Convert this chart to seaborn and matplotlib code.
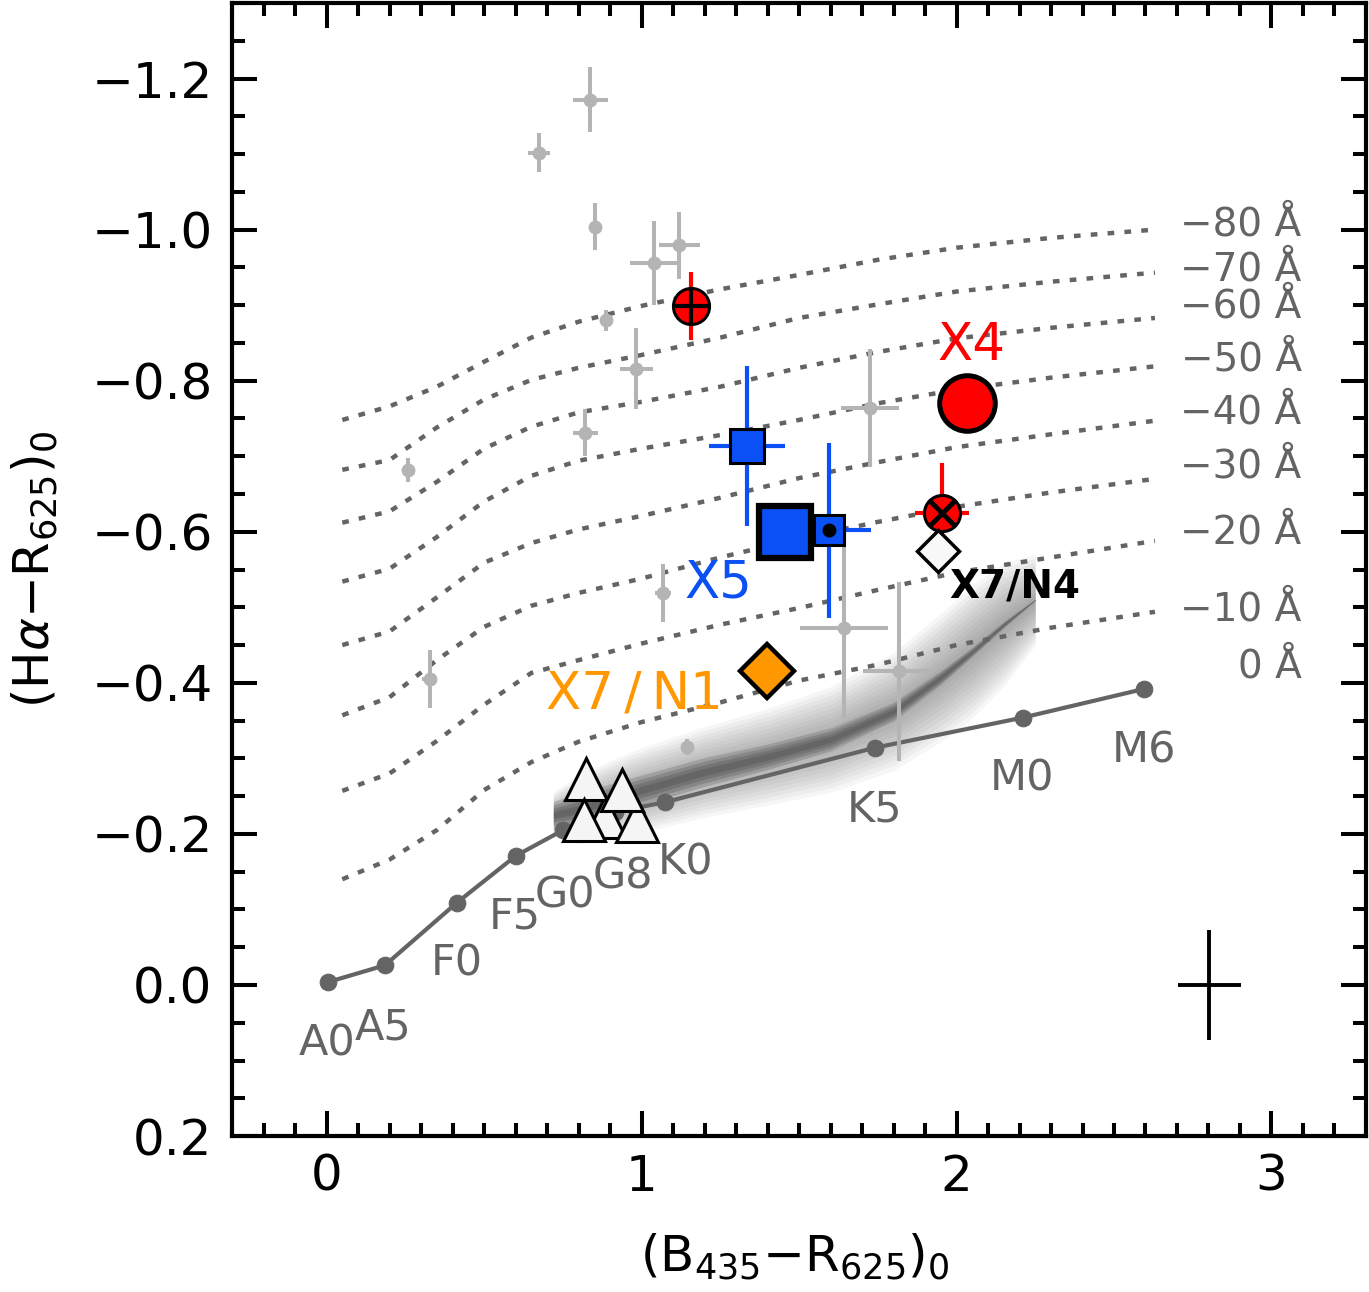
import matplotlib
matplotlib.use('Agg')
import matplotlib.pyplot as plt
import seaborn as sns
import pandas as pd
from matplotlib.ticker import MultipleLocator, FuncFormatter

# ---------------- data ----------------
# unreddened main-sequence locus
ms_x = [0.006, 0.185, 0.414, 0.601, 0.751, 0.916, 1.075, 1.740, 2.211, 2.596]
ms_y = [-0.004, -0.026, -0.109, -0.171, -0.205, -0.229, -0.242, -0.314, -0.354, -0.392]
sp_labels = ['A0', 'A5', 'F0', 'F5', 'G0', 'G8', 'K0', 'K5', 'M0', 'M6']
sp_lab_x = [0.0, 0.178, 0.414, 0.598, 0.757, 0.942, 1.139, 1.740, 2.208, 2.596]
sp_lab_y = [0.077, 0.056, -0.029, -0.090, -0.119, -0.143, -0.162, -0.232, -0.274, -0.311]

# lines of constant H-alpha equivalent width
ew_x = [0.05, 0.2, 0.35, 0.5, 0.65, 0.8, 1.0, 1.25, 1.5, 1.75, 2.0, 2.3, 2.63]
ew_m10 = [-0.140, -0.166, -0.205, -0.258, -0.295, -0.322, -0.348, -0.374, -0.403, -0.424, -0.450, -0.473, -0.494]
ew_m20 = [-0.257, -0.280, -0.323, -0.371, -0.413, -0.430, -0.452, -0.477, -0.499, -0.523, -0.546, -0.566, -0.588]
ew_m30 = [-0.357, -0.381, -0.430, -0.474, -0.502, -0.519, -0.538, -0.566, -0.591, -0.613, -0.633, -0.652, -0.670]
ew_m40 = [-0.450, -0.468, -0.513, -0.559, -0.585, -0.603, -0.621, -0.645, -0.671, -0.692, -0.712, -0.729, -0.747]
ew_m50 = [-0.534, -0.551, -0.593, -0.640, -0.674, -0.694, -0.710, -0.728, -0.748, -0.770, -0.788, -0.804, -0.819]
ew_m60 = [-0.612, -0.627, -0.666, -0.710, -0.739, -0.758, -0.772, -0.792, -0.817, -0.838, -0.856, -0.870, -0.883]
ew_m70 = [-0.682, -0.695, -0.738, -0.775, -0.801, -0.817, -0.834, -0.857, -0.883, -0.901, -0.918, -0.931, -0.943]
ew_m80 = [-0.748, -0.766, -0.792, -0.825, -0.857, -0.878, -0.899, -0.921, -0.940, -0.960, -0.976, -0.989, -1.000]
ew_labels = ['\u221280 \u00c5', '\u221270 \u00c5', '\u221260 \u00c5', '\u221250 \u00c5', '\u221240 \u00c5',
             '\u221230 \u00c5', '\u221220 \u00c5', '\u221210 \u00c5', '0 \u00c5']
ew_lab_y = [-1.007, -0.947, -0.898, -0.828, -0.758, -0.686, -0.599, -0.497, -0.421]

# field-star cloud: ridge line, dense core and sparse halo half-widths
cloud_x = [0.72, 0.80, 0.90, 1.00, 1.20, 1.40, 1.60, 1.80, 1.95, 2.05, 2.15, 2.25]
cloud_y = [-0.225, -0.232, -0.245, -0.258, -0.282, -0.302, -0.325, -0.362, -0.407, -0.441, -0.477, -0.510]
cloud_core = [0.018, 0.022, 0.021, 0.020, 0.019, 0.017, 0.015, 0.012, 0.009, 0.006, 0.004, 0.001]
cloud_halo = [0.030, 0.045, 0.052, 0.056, 0.060, 0.064, 0.070, 0.078, 0.085, 0.088, 0.082, 0.060]

# other H-alpha emitters (grey)
gray_x = [0.837, 0.675, 0.853, 1.040, 1.120, 0.888, 0.983, 0.821, 0.258, 1.069, 0.328, 1.725, 1.642, 1.817, 1.145]
gray_y = [-1.172, -1.102, -1.004, -0.956, -0.979, -0.880, -0.816, -0.731, -0.682, -0.519, -0.405, -0.764, -0.472, -0.415, -0.315]
gray_xerr = [0.055, 0.035, 0.008, 0.076, 0.066, 0.010, 0.052, 0.040, 0.008, 0.025, 0.024, 0.091, 0.139, 0.113, 0.008]
gray_yerr = [0.043, 0.026, 0.031, 0.056, 0.044, 0.014, 0.054, 0.031, 0.016, 0.038, 0.038, 0.078, 0.119, 0.119, 0.010]

# X-ray counterparts
red_plus = (1.158, -0.899, 0.015, 0.045)
red_cross = (1.954, -0.625, 0.086, 0.066)
x4 = (2.033, -0.770)
blue_x = [1.336, 1.594]
blue_y = [-0.714, -0.602]
blue_xerr = [0.121, 0.135]
blue_yerr = [0.106, 0.116]
blue_big = (1.457, -0.599)
orange_dia = (1.397, -0.416)
white_dia = (1.940, -0.574)
tri_x = [0.885, 0.986, 0.824, 0.818, 0.939]
tri_y = [-0.222, -0.217, -0.273, -0.219, -0.258]
err_cross = (2.803, 0.0, 0.099, 0.073)

# ---------------- style ----------------
sns.set_style('ticks')
plt.rcParams['font.family'] = ['DejaVu Sans']
plt.rcParams['mathtext.fontset'] = 'dejavusans'
for k in ['text.color', 'axes.labelcolor', 'xtick.color', 'ytick.color', 'xtick.labelcolor', 'ytick.labelcolor']:
    plt.rcParams[k] = 'black'

GREY = '#646464'
LGREY = '#b4b4b4'
BLUE = '#0a50f5'
RED = '#ff0000'
ORANGE = '#ff9700'

fig = plt.figure(figsize=(13.69, 12.92), dpi=100)
ax = fig.add_axes([0.1695, 0.1207, 0.8283, 0.877])

# field-star cloud (soft layered band)
n_halo = 12
for i in range(n_halo):
    f = 1.0 - i / n_halo
    ax.fill_between(cloud_x, [y - h * f for y, h in zip(cloud_y, cloud_halo)],
                    [y + h * f for y, h in zip(cloud_y, cloud_halo)],
                    color='#505050', alpha=0.05, lw=0, zorder=1)
for f in [1.0, 0.75, 0.5, 0.25]:
    ax.fill_between(cloud_x, [y - h * f for y, h in zip(cloud_y, cloud_core)],
                    [y + h * f for y, h in zip(cloud_y, cloud_core)],
                    color='#303030', alpha=0.18, lw=0, zorder=1)

# EW lines
ew_sets = [ew_m80, ew_m70, ew_m60, ew_m50, ew_m40, ew_m30, ew_m20, ew_m10]
ew_df = pd.DataFrame([(i, x, y) for i, ys in enumerate(ew_sets) for x, y in zip(ew_x, ys)],
                     columns=['line', 'x', 'y'])
sns.lineplot(data=ew_df, x='x', y='y', units='line', estimator=None, sort=False,
             color=GREY, lw=3.2, linestyle=(0, (1.5, 2.3)), ax=ax, zorder=2)
for lab, yy in zip(ew_labels, ew_lab_y):
    ax.text(3.096, yy, lab, ha='right', va='center', fontsize=28, color=GREY)

# main sequence
sns.lineplot(x=ms_x, y=ms_y, sort=False, color=GREY, lw=3, marker='o', ms=12,
             mec=GREY, mfc=GREY, ax=ax, zorder=3)
for lab, xx, yy in zip(sp_labels, sp_lab_x, sp_lab_y):
    ax.text(xx, yy, lab, ha='center', va='center', fontsize=31, color=GREY)

# grey emitters
ax.errorbar(gray_x, gray_y, xerr=gray_xerr, yerr=gray_yerr, fmt='none',
            ecolor=LGREY, elinewidth=2.9, capsize=0, zorder=4)
sns.scatterplot(x=gray_x, y=gray_y, color=LGREY, s=100, linewidth=0, ax=ax, zorder=4)

# triangles
for tx, ty in zip(tri_x, tri_y):
    ax.plot(tx, ty, marker='^', ms=30, mfc='#f5f5f5', mec='black', mew=2.2, zorder=5)

# X-ray sources
ax.errorbar(red_plus[0], red_plus[1], xerr=red_plus[2], yerr=red_plus[3], fmt='none',
            ecolor=RED, elinewidth=3, zorder=6)
ax.plot(red_plus[0], red_plus[1], 'o', ms=26, mfc=RED, mec='black', mew=2.2, zorder=6)
ax.plot(red_plus[0], red_plus[1], '+', ms=26, mec='black', mew=3, zorder=6)

ax.errorbar(red_cross[0], red_cross[1], xerr=red_cross[2], yerr=red_cross[3], fmt='none',
            ecolor=RED, elinewidth=3, zorder=6)
ax.plot(red_cross[0], red_cross[1], 'o', ms=26, mfc=RED, mec='black', mew=2.2, zorder=6)
ax.plot(red_cross[0], red_cross[1], 'x', ms=17, mec='black', mew=3.5, zorder=6)

ax.plot(x4[0], x4[1], 'o', ms=40, mfc=RED, mec='black', mew=3.6, zorder=6)
ax.text(2.046, -0.846, 'X4', color=RED, fontsize=37, ha='center', va='center')

ax.errorbar(blue_x, blue_y, xerr=blue_xerr, yerr=blue_yerr, fmt='none',
            ecolor=BLUE, elinewidth=3, zorder=6)
ax.plot(blue_x[0], blue_y[0], 's', ms=24, mfc=BLUE, mec='black', mew=2.2, zorder=7)
ax.plot(blue_x[1], blue_y[1], 's', ms=22, mfc=BLUE, mec='black', mew=2.2, zorder=7)
ax.plot(blue_x[1], blue_y[1], 'o', ms=9, mfc='black', mec='black', zorder=7)
ax.plot(blue_big[0], blue_big[1], 's', ms=38, mfc=BLUE, mec='black', mew=4.5, zorder=8)
ax.text(1.244, -0.532, 'X5', color=BLUE, fontsize=37, ha='center', va='center')

ax.plot(orange_dia[0], orange_dia[1], 'D', ms=27, mfc=ORANGE, mec='black', mew=3.2, zorder=6)
ax.text(0.977, -0.384, 'X7\u2009/\u2009N1', color=ORANGE, fontsize=37, ha='center', va='center')

ax.plot(white_dia[0], white_dia[1], 'D', ms=21, mfc='#f8f8f8', mec='black', mew=2.5, zorder=6)
ax.text(1.976, -0.527, 'X7/N4', color='black', fontsize=28, fontweight='bold',
        ha='left', va='center')

# typical error
ax.errorbar(err_cross[0], err_cross[1], xerr=err_cross[2], yerr=err_cross[3], fmt='none',
            ecolor='black', elinewidth=2.8, zorder=6)

# axes
ax.set_xlim(-0.3, 3.3)
ax.set_ylim(0.2, -1.3)
ax.xaxis.set_major_locator(MultipleLocator(1))
ax.xaxis.set_minor_locator(MultipleLocator(0.1))
ax.yaxis.set_major_locator(MultipleLocator(0.2))
ax.yaxis.set_minor_locator(MultipleLocator(0.05))
ax.yaxis.set_major_formatter(FuncFormatter(lambda v, p: f'{v:.1f}'.replace('-', '\u2212')))
ax.xaxis.set_major_formatter(FuncFormatter(lambda v, p: f'{v:.0f}'))
ax.tick_params(which='major', direction='in', length=18, width=2.9, top=True, right=True,
               labelsize=36, color='black', labelcolor='black')
ax.tick_params(axis='x', which='major', pad=12)
ax.tick_params(axis='y', which='major', pad=14)
ax.tick_params(which='minor', direction='in', length=9.5, width=2.9, top=True, right=True)
for s in ax.spines.values():
    s.set_linewidth(3)
    s.set_color('black')

ax.set_xlabel(r'(B$_{435}$$-$R$_{625}$)$_0$', fontsize=36, color='black')
ax.set_ylabel(r'(H$\alpha$$-$R$_{625}$)$_0$', fontsize=36, color='black')
ax.xaxis.set_label_coords(0.4965, -0.084)
ax.yaxis.set_label_coords(-0.152, 0.50)

fig.savefig('out.png', dpi=100)
